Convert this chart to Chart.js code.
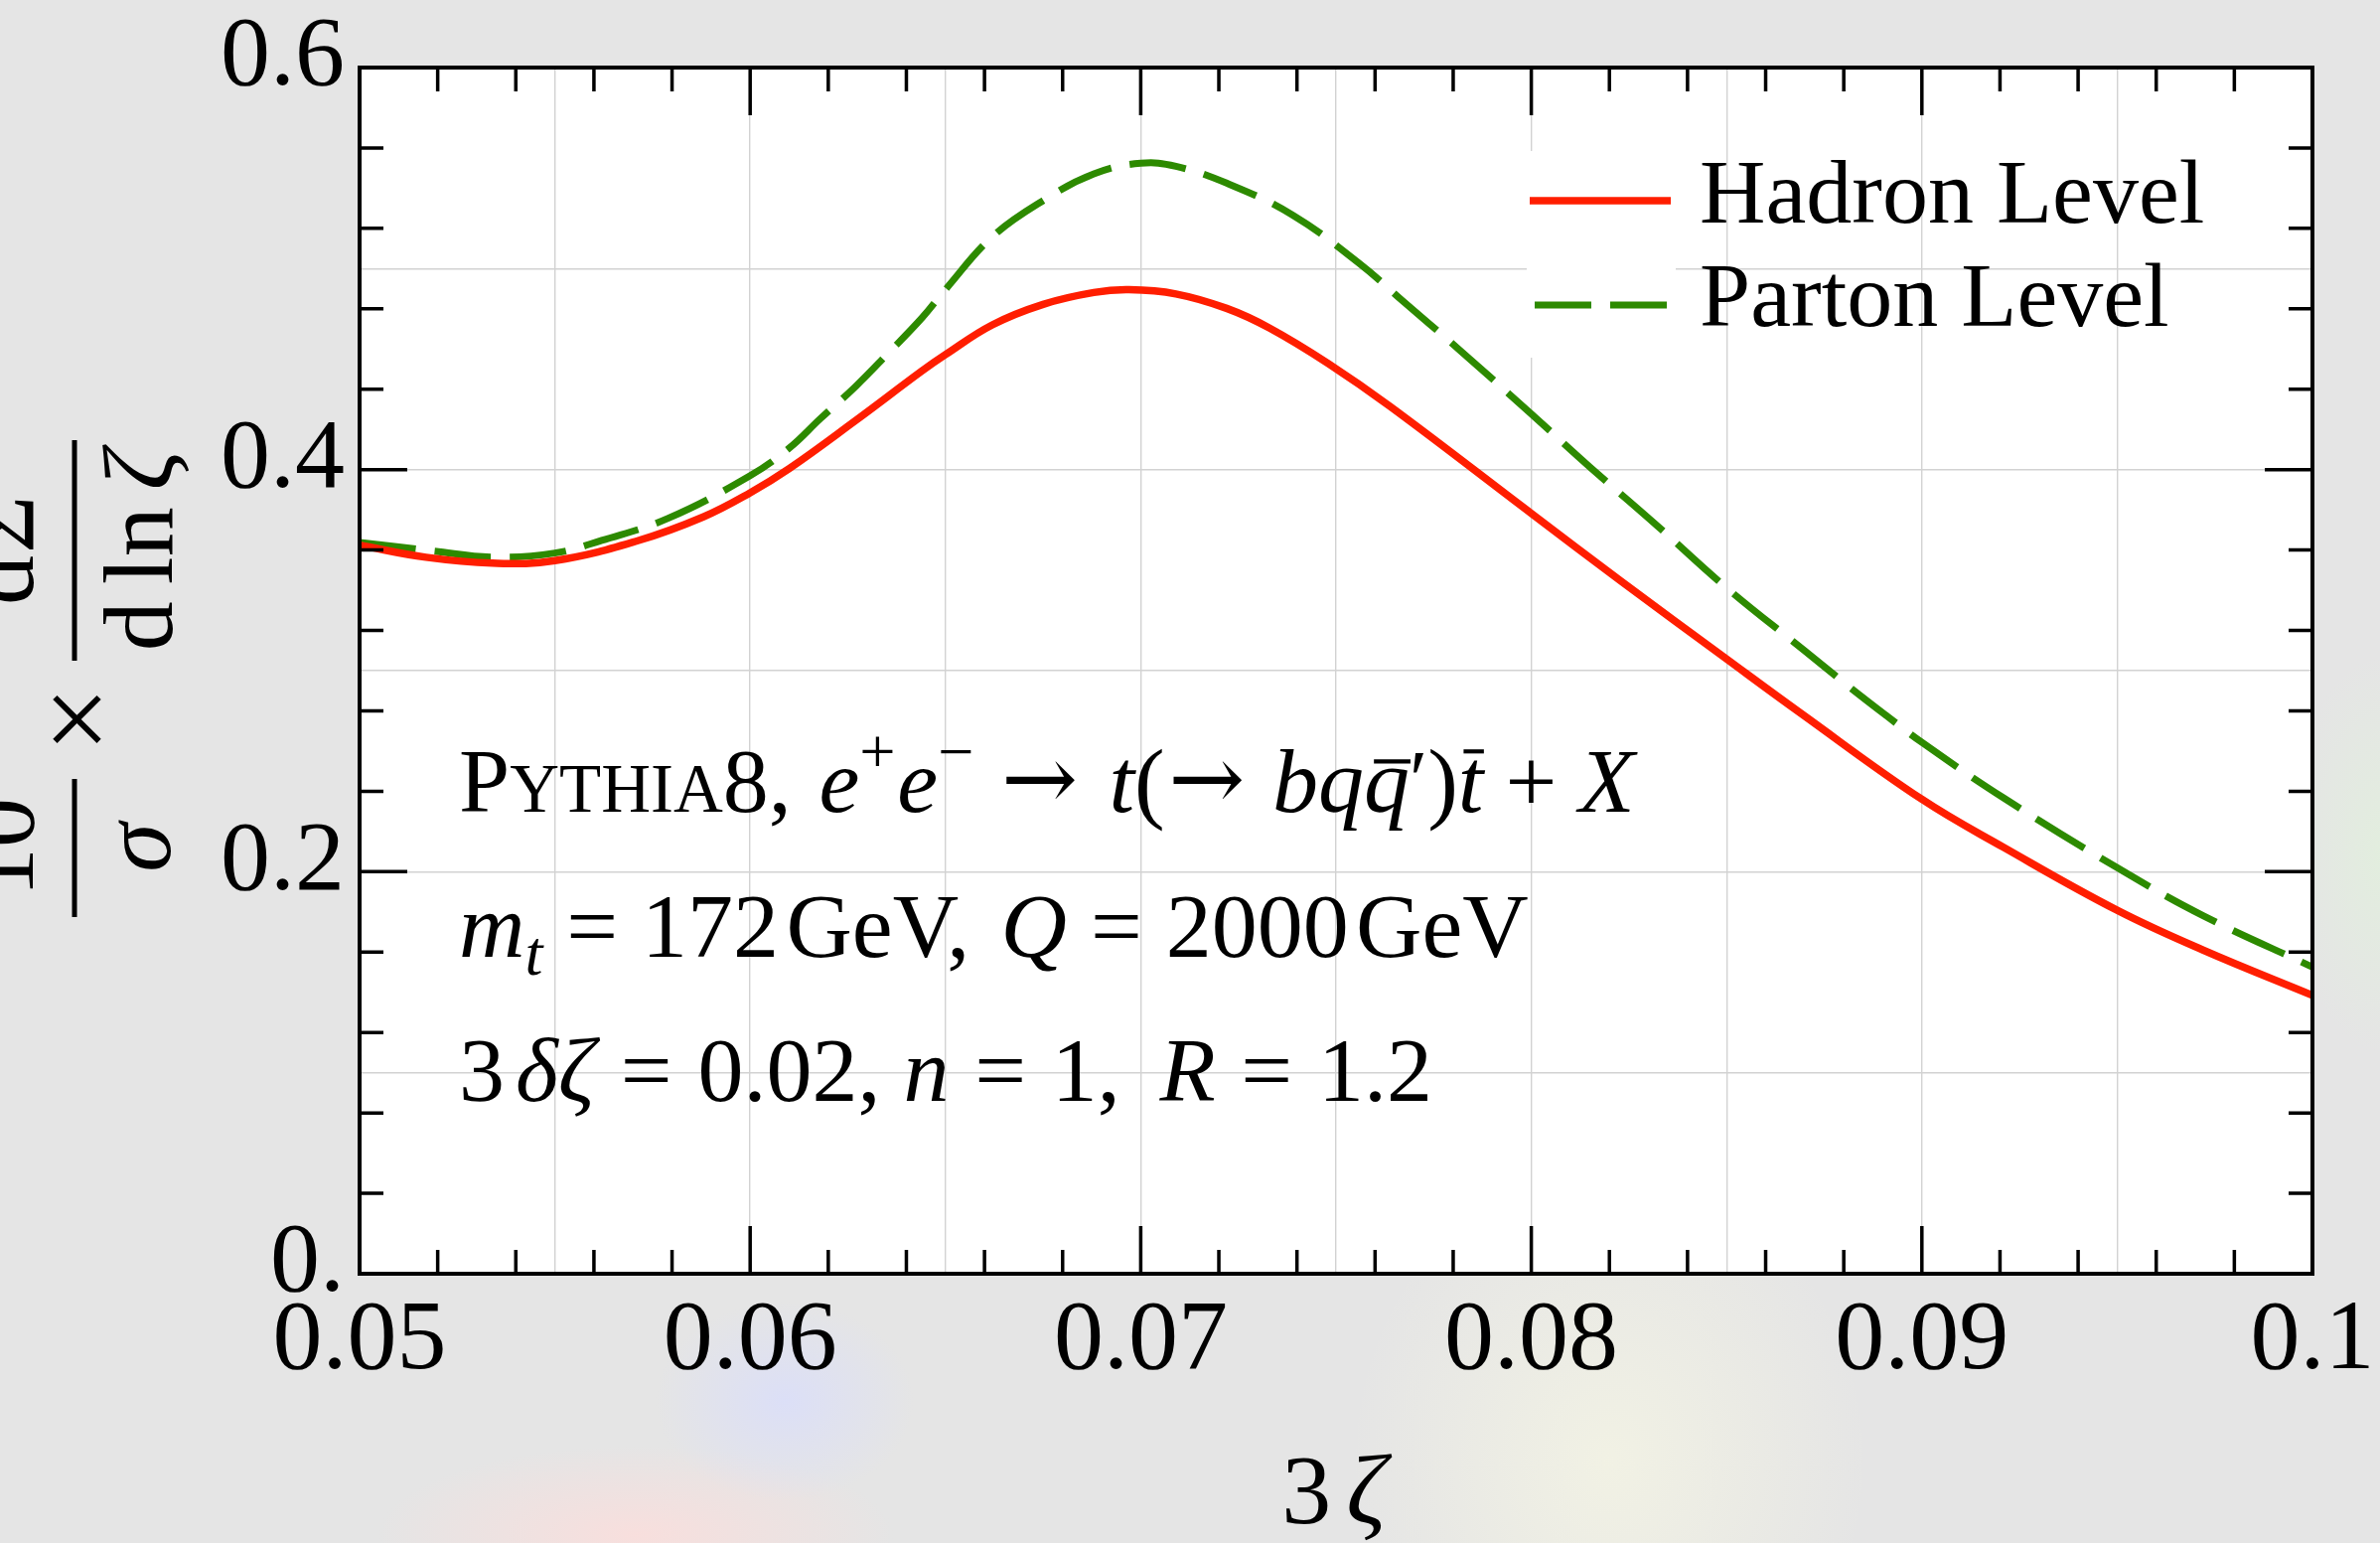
<!DOCTYPE html>
<html>
<head>
<meta charset="utf-8">
<script src="https://cdn.jsdelivr.net/npm/chart.js@4.4.1/dist/chart.umd.min.js"></script>
<style>
  html, body { margin: 0; padding: 0; }
  body {
    width: 2396px; height: 1553px; overflow: hidden;
    background:
      radial-gradient(ellipse 130px 100px at 790px 1410px, rgba(218,222,250,0.85), rgba(218,222,250,0)),
      radial-gradient(ellipse 260px 90px at 640px 1545px, rgba(250,222,220,0.9), rgba(250,222,220,0)),
      radial-gradient(ellipse 260px 300px at 1620px 1470px, rgba(242,242,228,0.95), rgba(242,242,228,0)),
      radial-gradient(ellipse 90px 200px at 2396px 860px, rgba(226,238,222,0.95), rgba(226,238,222,0)),
      #e5e5e5;
  }
  canvas { display: block; }
</style>
</head>
<body>
<canvas id="c" width="2396" height="1553"></canvas>
<script>
// Hadron-level curve: 3*zeta and (10/sigma) dSigma/dln zeta
const hadronZeta = [0.0500, 0.0517, 0.0534, 0.0550, 0.0571, 0.0588, 0.0600, 0.0610, 0.0627, 0.0644,
                    0.0650, 0.0662, 0.0675, 0.0688, 0.0697, 0.0709, 0.0722, 0.0733, 0.0748, 0.0764,
                    0.0800, 0.0823, 0.0850, 0.0869, 0.0900, 0.0921, 0.0950, 0.0972, 0.1000];
const hadronVals = [0.3624, 0.3564, 0.3535, 0.3547, 0.3645, 0.3765, 0.3885, 0.4005, 0.4244, 0.4491,
                    0.4572, 0.4720, 0.4822, 0.4881, 0.4895, 0.4874, 0.4802, 0.4704, 0.4528, 0.4312,
                    0.3782, 0.3445, 0.3058, 0.2788, 0.2360, 0.2120, 0.1808, 0.1610, 0.1385];

// Parton-level curve
const partonZeta = [0.0500, 0.0519, 0.0534, 0.0550, 0.0562, 0.0579, 0.0600, 0.0610, 0.0618, 0.0627,
                    0.0635, 0.0644, 0.0650, 0.0662, 0.0675, 0.0688, 0.0700, 0.0709, 0.0722, 0.0739,
                    0.0756, 0.0767, 0.0781, 0.0800, 0.0815, 0.0832, 0.0850, 0.0870, 0.0881, 0.0891,
                    0.0900, 0.0921, 0.0950, 0.0972, 0.1000];
const partonVals = [0.3638, 0.3595, 0.3565, 0.3585, 0.3648, 0.3758, 0.3970, 0.4107, 0.4254, 0.4414,
                    0.4572, 0.4755, 0.4896, 0.5158, 0.5338, 0.5471, 0.5524, 0.5509, 0.5425, 0.5265,
                    0.5025, 0.4840, 0.4606, 0.4277, 0.4013, 0.3725, 0.3412, 0.3099, 0.2926, 0.2775,
                    0.2643, 0.2366, 0.2020, 0.1781, 0.1526];

const seriesNames = ['Hadron Level', 'Parton Level'];
const seriesColors = ['#ff1e00', '#2d8a00'];

// Axis ticks and labels
const xMajorTicks = [0.05, 0.06, 0.07, 0.08, 0.09, 0.1];
const xTickLabels = ['0.05', '0.06', '0.07', '0.08', '0.09', '0.1'];
const yMajorTicks = [0, 0.2, 0.4, 0.6];
const yTickLabels = ['0.', '0.2', '0.4', '0.6'];

const SERIF = '"Liberation Serif", "Times New Roman", serif';
const ARROW_FONT = '"DejaVu Serif", serif';

function labelFor(v, majors, labels) {
  for (let i = 0; i < majors.length; i++) {
    if (Math.abs(v - majors[i]) < 1e-9) return labels[i];
  }
  return '';
}

// Draw a row of text runs (mixed roman/italic, super/subscripts, overbars)
function drawRuns(ctx, runs, x, y, size, align) {
  const items = [];
  let total = 0;
  for (const r of runs) {
    const s = size * (r.scale || 1);
    const font = (r.it ? 'italic ' : '') + s + 'px ' + (r.fam || SERIF);
    ctx.font = font;
    const w = ctx.measureText(r.t).width;
    items.push({ r, font, w });
    total += w + (r.gap || 0) * size;
  }
  let cx = align === 'center' ? x - total / 2 : x;
  for (const it of items) {
    ctx.font = it.font;
    const yy = y - (it.r.up || 0) * size;
    ctx.textAlign = 'left';
    ctx.textBaseline = 'alphabetic';
    ctx.fillText(it.r.t, cx, yy);
    if (it.r.bar) {
      ctx.save();
      ctx.lineWidth = size * 0.045;
      ctx.beginPath();
      const by = yy - it.r.bar * size;
      ctx.moveTo(cx + it.w * 0.22, by);
      ctx.lineTo(cx + it.w * 1.02, by);
      ctx.stroke();
      ctx.restore();
    }
    cx += it.w + (it.r.gap || 0) * size;
  }
  return total;
}

const plotBackground = {
  id: 'plotBackground',
  beforeDraw(chart) {
    const { ctx, chartArea: a } = chart;
    ctx.save();
    ctx.fillStyle = '#ffffff';
    ctx.fillRect(a.left, a.top, a.right - a.left, a.bottom - a.top);
    ctx.restore();
  }
};

// Frame with inward major/minor ticks on all four sides
const frameTicks = {
  id: 'frameTicks',
  afterDatasetsDraw(chart) {
    const { ctx, chartArea: a, scales: { x, y } } = chart;
    ctx.save();
    ctx.strokeStyle = '#000';
    ctx.lineWidth = 3.5;
    ctx.beginPath();
    const xStepMinor = 0.002, xStepMajor = 0.01;
    const nx = Math.round((x.max - x.min) / xStepMinor);
    for (let k = 0; k <= nx; k++) {
      const v = x.min + k * xStepMinor;
      const major = Math.abs(v / xStepMajor - Math.round(v / xStepMajor)) < 1e-6;
      const len = major ? 48 : 24;
      const px = x.getPixelForValue(v);
      ctx.moveTo(px, a.bottom); ctx.lineTo(px, a.bottom - len);
      ctx.moveTo(px, a.top); ctx.lineTo(px, a.top + len);
    }
    const yStepMinor = 0.04, yStepMajor = 0.2;
    const ny = Math.round((y.max - y.min) / yStepMinor);
    for (let k = 0; k <= ny; k++) {
      const v = y.min + k * yStepMinor;
      const major = Math.abs(v / yStepMajor - Math.round(v / yStepMajor)) < 1e-6;
      const len = major ? 48 : 24;
      const py = y.getPixelForValue(v);
      ctx.moveTo(a.left, py); ctx.lineTo(a.left + len, py);
      ctx.moveTo(a.right, py); ctx.lineTo(a.right - len, py);
    }
    ctx.stroke();
    ctx.lineWidth = 4;
    ctx.strokeRect(a.left, a.top, a.right - a.left, a.bottom - a.top);
    ctx.restore();
  }
};

// Legend in the upper right of the plot
const sideLegend = {
  id: 'sideLegend',
  afterDraw(chart) {
    const { ctx } = chart;
    const ds = chart.data.datasets;
    ctx.save();
    ctx.fillStyle = '#ffffff';
    ctx.fillRect(1537, 152, 150, 208);
    const rows = [202, 307];
    const textBase = [224, 328];
    ds.forEach((d, i) => {
      ctx.strokeStyle = d.borderColor;
      ctx.lineWidth = d.borderWidth;
      ctx.setLineDash(d.borderDash || []);
      ctx.beginPath();
      ctx.moveTo(i === 0 ? 1540 : 1545, rows[i]);
      ctx.lineTo(1682, rows[i]);
      ctx.stroke();
      ctx.setLineDash([]);
      ctx.fillStyle = '#000';
      ctx.font = '92px ' + SERIF;
      ctx.textAlign = 'left';
      ctx.textBaseline = 'alphabetic';
      ctx.fillText(d.label, 1711, textBase[i]);
    });
    ctx.restore();
  }
};

// Axis titles and the run description
const annotations = {
  id: 'annotations',
  afterDraw(chart) {
    const { ctx } = chart;
    ctx.save();
    ctx.fillStyle = '#000';
    ctx.strokeStyle = '#000';
    const F = 92;
    drawRuns(ctx, [
      { t: 'P' }, { t: 'YTHIA', scale: 0.75 }, { t: '8,', gap: 0.3 },
      { t: 'e', it: 1 }, { t: '+', scale: 0.7, up: 0.42, gap: 0.02 },
      { t: 'e', it: 1 }, { t: '\u2212', scale: 0.7, up: 0.42, gap: 0.3 },
      { t: '\u2192', fam: ARROW_FONT, up: 0.02, gap: 0.34 },
      { t: 't', it: 1 }, { t: '(', gap: 0.04 },
      { t: '\u2192', fam: ARROW_FONT, up: 0.02, gap: 0.3 },
      { t: 'b', it: 1 }, { t: 'q', it: 1 }, { t: 'q', it: 1, bar: 0.55 }, { t: '\u2032', scale: 0.9, up: 0.05 },
      { t: ')' }, { t: 't', it: 1, bar: 0.66, gap: 0.24 },
      { t: '+', gap: 0.24 }, { t: 'X', it: 1 }
    ], 462, 817, F, 'left');

    drawRuns(ctx, [
      { t: 'm', it: 1 }, { t: 't', it: 1, scale: 0.7, up: -0.2, gap: 0.26 },
      { t: '=', gap: 0.26 }, { t: '172', gap: 0.08 }, { t: 'GeV,', gap: 0.34 },
      { t: 'Q', it: 1, gap: 0.26 }, { t: '=', gap: 0.26 }, { t: '2000', gap: 0.08 }, { t: 'GeV' }
    ], 462, 963, F, 'left');

    drawRuns(ctx, [
      { t: '3', gap: 0.12 }, { t: '\u03b4\u03b6', it: 1, gap: 0.28 },
      { t: '=', gap: 0.28 }, { t: '0.02,', gap: 0.25 },
      { t: 'n', it: 1, gap: 0.28 }, { t: '=', gap: 0.28 }, { t: '1,', gap: 0.43 },
      { t: 'R', it: 1, gap: 0.28 }, { t: '=', gap: 0.28 }, { t: '1.2' }
    ], 462, 1108, F, 'left');

    // x-axis title
    drawRuns(ctx, [{ t: '3', gap: 0.15 }, { t: '\u03b6', it: 1 }], 1343, 1533, 100, 'center');

    // y-axis title, rotated: (10/sigma) x dSigma / d ln zeta
    const rot = (runs, bx, cy, size) => {
      ctx.save();
      ctx.translate(bx, cy);
      ctx.rotate(-Math.PI / 2);
      drawRuns(ctx, runs, 0, 0, size, 'center');
      ctx.restore();
    };
    const bar = (x0, y0, y1) => {
      ctx.save();
      ctx.lineWidth = 5;
      ctx.beginPath();
      ctx.moveTo(x0, y0); ctx.lineTo(x0, y1);
      ctx.stroke();
      ctx.restore();
    };
    rot([{ t: '10' }], 33, 853, 100);
    bar(75, 784, 923);
    rot([{ t: '\u03c3', it: 1 }], 171, 853, 100);
    rot([{ t: '\u00d7' }], 117, 724, 118);
    rot([{ t: 'd', gap: 0.02 }, { t: '\u03a3' }], 33, 554, 100);
    bar(75, 443, 665);
    rot([{ t: 'd', gap: 0.17 }, { t: 'ln', gap: 0.17 }, { t: '\u03b6', it: 1 }], 173, 554, 100);
    ctx.restore();
  }
};

const datasets = [
  {
    label: seriesNames[0],
    data: hadronZeta.map((z, i) => ({ x: z, y: hadronVals[i] })),
    borderColor: seriesColors[0],
    borderWidth: 7.5,
    pointRadius: 0,
    fill: false,
    tension: 0.4
  },
  {
    label: seriesNames[1],
    data: partonZeta.map((z, i) => ({ x: z, y: partonVals[i] })),
    borderColor: seriesColors[1],
    borderWidth: 7,
    borderDash: [57, 19],
    pointRadius: 0,
    fill: false,
    tension: 0.4
  }
];

new Chart(document.getElementById('c'), {
  type: 'line',
  data: { datasets },
  options: {
    responsive: false,
    devicePixelRatio: 1,
    animation: false,
    events: [],
    layout: { padding: { top: 68, right: 68, left: 0, bottom: 0 } },
    plugins: { legend: { display: false }, tooltip: { enabled: false } },
    scales: {
      x: {
        type: 'linear',
        min: 0.05, max: 0.1,
        border: { display: false },
        grid: { color: '#d2d2d2', lineWidth: 1.4, drawTicks: false },
        ticks: {
          stepSize: 0.005,
          autoSkip: false, maxRotation: 0, minRotation: 0,
          padding: 9,
          color: '#000',
          font: { family: SERIF, size: 100 },
          callback: v => labelFor(v, xMajorTicks, xTickLabels)
        },
        afterFit(s) { s.height = 271; s.paddingLeft = 0; s.paddingRight = 0; }
      },
      y: {
        type: 'linear',
        min: 0, max: 0.6,
        border: { display: false },
        grid: { color: '#d2d2d2', lineWidth: 1.4, drawTicks: false },
        ticks: {
          stepSize: 0.1,
          autoSkip: false,
          padding: 15,
          labelOffset: -9,
          color: '#000',
          font: { family: SERIF, size: 100 },
          callback: v => labelFor(v, yMajorTicks, yTickLabels)
        },
        afterFit(s) { s.width = 362; s.paddingTop = 0; s.paddingBottom = 0; }
      }
    }
  },
  plugins: [plotBackground, frameTicks, sideLegend, annotations]
});
</script>
</body>
</html>
